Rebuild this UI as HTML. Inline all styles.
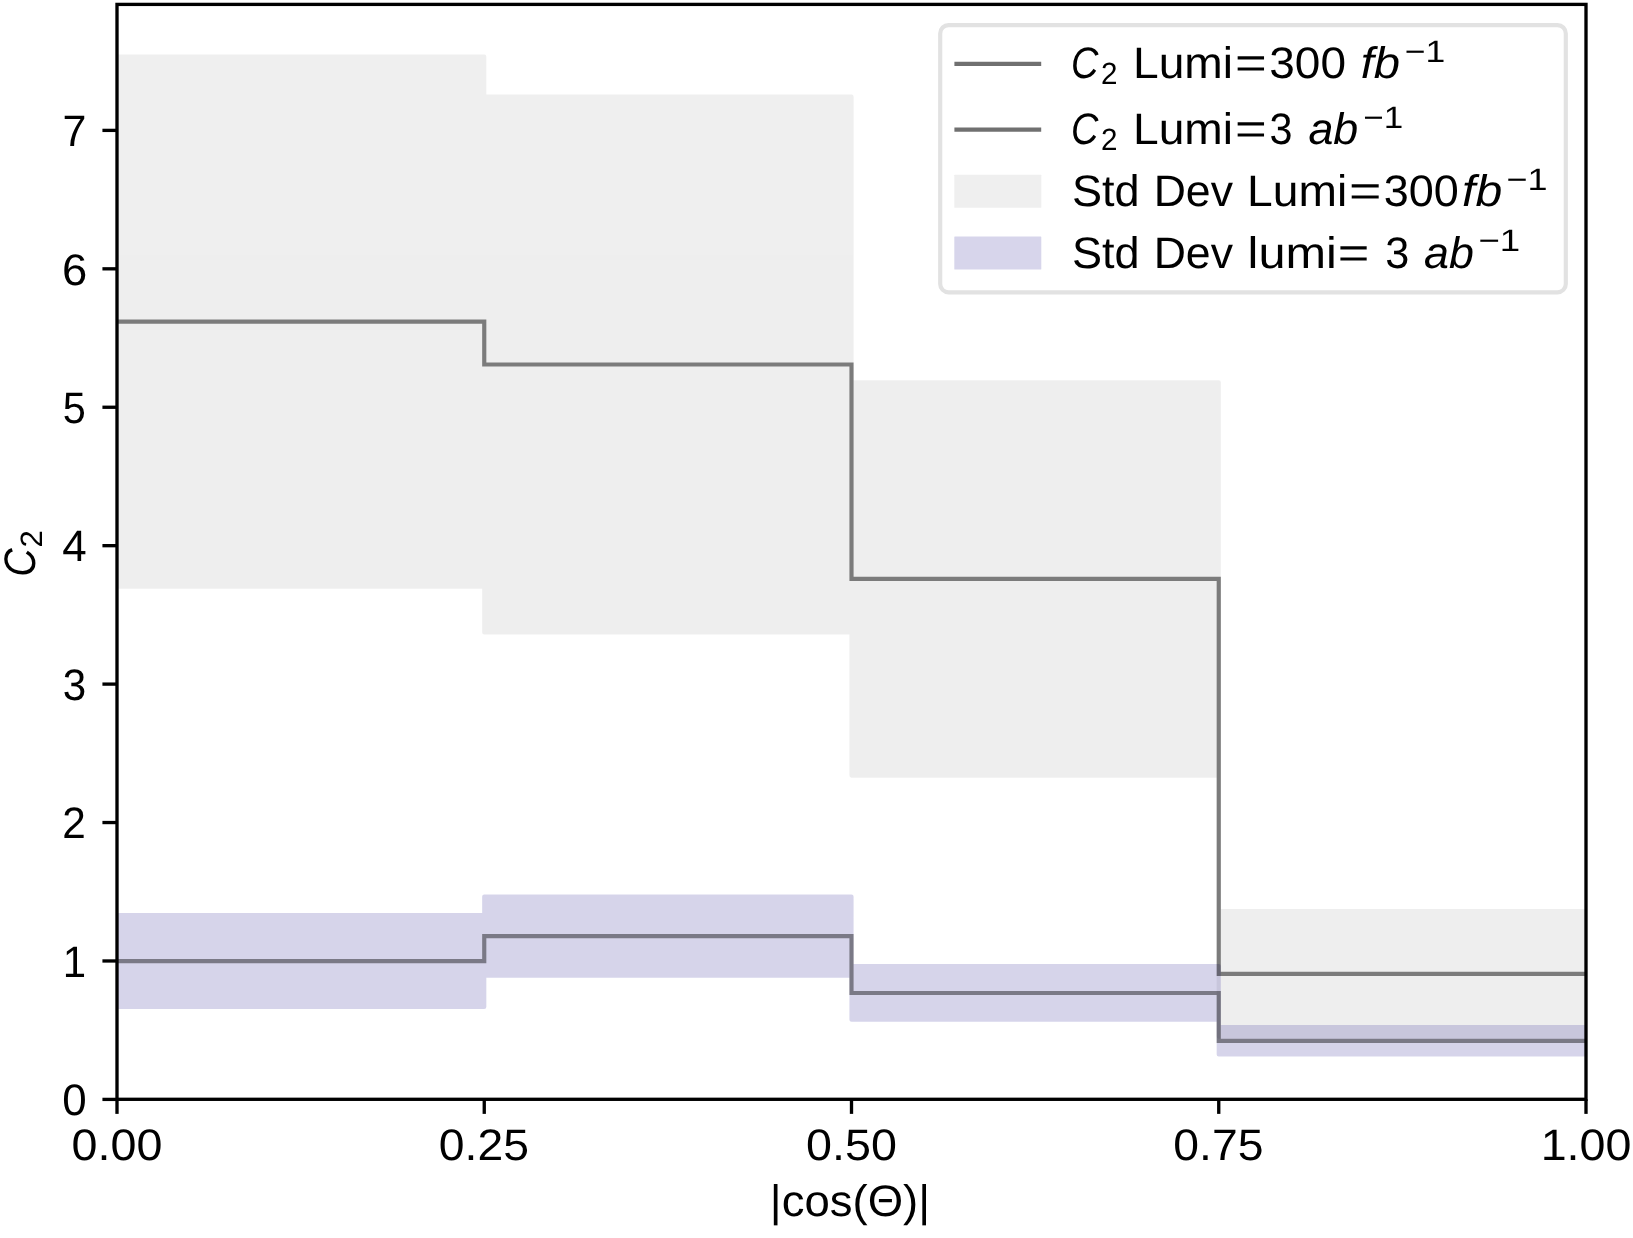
<!DOCTYPE html>
<html lang="en"><head><meta charset="utf-8"><title>C2 vs |cos(Theta)|</title>
<style>html,body{margin:0;padding:0;background:#fff;overflow:hidden}svg{display:block;will-change:transform}text{font-family:"Liberation Sans",sans-serif;fill:#000}</style></head><body>
<svg width="1633" height="1238" viewBox="0 0 1633 1238">
<rect x="0" y="0" width="1633" height="1238" fill="#ffffff"/>
<defs><clipPath id="ax"><rect x="117.00" y="4.40" width="1469.00" height="1094.90"/></clipPath></defs>
<g clip-path="url(#ax)">
<g opacity="0.127"><path d="M117.00 56.70 L484.25 56.70 L484.25 96.70 L851.50 96.70 L851.50 382.30 L1218.75 382.30 L1218.75 911.00 L1586.00 911.00 L1586.00 1036.60 L1218.75 1036.60 L1218.75 775.60 L851.50 775.60 L851.50 632.50 L484.25 632.50 L484.25 586.70 L117.00 586.70 Z" fill="#808080" stroke="#808080" stroke-width="4.17" stroke-linejoin="round"/></g>
<g opacity="0.165"><path d="M117.00 915.10 L484.25 915.10 L484.25 896.50 L851.50 896.50 L851.50 966.10 L1218.75 966.10 L1218.75 1027.15 L1586.00 1027.15 L1586.00 1054.50 L1218.75 1054.50 L1218.75 1019.70 L851.50 1019.70 L851.50 975.70 L484.25 975.70 L484.25 1006.90 L117.00 1006.90 Z" fill="#0c0087" stroke="#0c0087" stroke-width="4.17" stroke-linejoin="round"/></g>
<path d="M117.00 321.60 L484.25 321.60 L484.25 364.50 L851.50 364.50 L851.50 578.90 L1218.75 578.90 L1218.75 973.80 L1586.00 973.80" fill="none" stroke="#000" stroke-opacity="0.484" stroke-width="4.17" stroke-linejoin="miter" stroke-linecap="square"/>
<path d="M117.00 961.20 L484.25 961.20 L484.25 936.20 L851.50 936.20 L851.50 993.00 L1218.75 993.00 L1218.75 1040.80 L1586.00 1040.80" fill="none" stroke="#000" stroke-opacity="0.427" stroke-width="4.17" stroke-linejoin="miter" stroke-linecap="square"/>
</g>
<g stroke="#000" stroke-width="3.33" fill="none">
<line x1="117.00" y1="1099.30" x2="117.00" y2="1113.88"/>
<line x1="484.25" y1="1099.30" x2="484.25" y2="1113.88"/>
<line x1="851.50" y1="1099.30" x2="851.50" y2="1113.88"/>
<line x1="1218.75" y1="1099.30" x2="1218.75" y2="1113.88"/>
<line x1="1586.00" y1="1099.30" x2="1586.00" y2="1113.88"/>
<line x1="102.42" y1="1099.40" x2="117.00" y2="1099.40"/>
<line x1="102.42" y1="960.97" x2="117.00" y2="960.97"/>
<line x1="102.42" y1="822.54" x2="117.00" y2="822.54"/>
<line x1="102.42" y1="684.11" x2="117.00" y2="684.11"/>
<line x1="102.42" y1="545.68" x2="117.00" y2="545.68"/>
<line x1="102.42" y1="407.25" x2="117.00" y2="407.25"/>
<line x1="102.42" y1="268.82" x2="117.00" y2="268.82"/>
<line x1="102.42" y1="130.39" x2="117.00" y2="130.39"/>
<rect x="117.00" y="4.40" width="1469.00" height="1094.90" stroke-linejoin="miter"/>
</g>
<g style="font-kerning:none;text-rendering:geometricPrecision">
<text transform="translate(71.53 1159.65) scale(1.0580 1.0000)" font-size="44.15">0.00</text>
<text transform="translate(438.80 1159.65) scale(1.0490 1.0000)" font-size="44.15">0.25</text>
<text transform="translate(806.03 1159.65) scale(1.0580 1.0000)" font-size="44.15">0.50</text>
<text transform="translate(1173.30 1159.65) scale(1.0490 1.0000)" font-size="44.15">0.75</text>
<text transform="translate(1540.64 1159.65) scale(1.0568 1.0000)" font-size="44.15">1.00</text>
<text transform="translate(62.32 1115.10) scale(0.9949 1.0000)" font-size="44.15">0</text>
<text transform="translate(62.67 976.67) scale(0.9502 1.0000)" font-size="44.15">1</text>
<text transform="translate(62.21 838.24) scale(0.9589 1.0000)" font-size="44.15">2</text>
<text transform="translate(62.86 699.81) scale(0.9554 1.0000)" font-size="44.15">3</text>
<text transform="translate(62.32 561.38) scale(0.9950 1.0000)" font-size="44.15">4</text>
<text transform="translate(62.85 422.95) scale(0.9389 1.0000)" font-size="44.15">5</text>
<text transform="translate(61.89 284.52) scale(1.0296 1.0000)" font-size="44.15">6</text>
<text transform="translate(62.51 146.09) scale(0.9732 1.0000)" font-size="44.15">7</text>
<text transform="translate(769.83 1216.40) scale(1.0312 1.0000)" font-size="44.15">|cos(Θ)|</text>
<g transform="translate(0 0) rotate(-90)">
<text transform="translate(-576.87 35.00) scale(0.8927 1.0000)" font-size="44.15" font-style="italic">C</text>
<text transform="translate(-547.57 41.60) scale(1.0086 1.0000)" font-size="30.90">2</text>
</g>
</g>
<rect x="940.20" y="25.10" width="625.60" height="267.20" rx="8.33" ry="8.33" fill="#fff" fill-opacity="0.8" stroke="#e2e2e2" stroke-width="4.17"/>
<line x1="954.4" y1="63.90" x2="1041.2" y2="63.90" stroke="#000" stroke-opacity="0.56" stroke-width="4.17"/>
<line x1="954.4" y1="129.65" x2="1041.2" y2="129.65" stroke="#000" stroke-opacity="0.56" stroke-width="4.17"/>
<rect x="954.3" y="174.7" width="87" height="33.1" rx="0.6" fill="#808080" fill-opacity="0.127"/>
<rect x="954.3" y="236.5" width="87" height="33.1" rx="0.6" fill="#0c0087" fill-opacity="0.165"/>
<g style="font-kerning:none;text-rendering:geometricPrecision">
<text transform="translate(1070.91 78.10) scale(0.8590 1.0000)" font-size="44.15" font-style="italic">C</text>
<text transform="translate(1101.01 84.00) scale(0.9589 1.0000)" font-size="30.90">2</text>
<text transform="translate(1133.01 78.10) scale(1.0460 1.0000)" font-size="44.15">Lumi</text>
<text transform="translate(1235.05 78.10) scale(1.2308 1.0000)" font-size="44.15">=</text>
<text transform="translate(1269.25 78.10) scale(1.0419 1.0000)" font-size="44.15">300</text>
<text transform="translate(1360.71 78.10) scale(1.0684 1.0000)" font-size="44.15" font-style="italic">fb</text>
<text transform="translate(1404.65 61.90) scale(1.1490 1.0000)" font-size="30.90">−1</text>
<text transform="translate(1070.91 143.90) scale(0.8590 1.0000)" font-size="44.15" font-style="italic">C</text>
<text transform="translate(1101.01 149.80) scale(0.9589 1.0000)" font-size="30.90">2</text>
<text transform="translate(1133.01 143.90) scale(1.0460 1.0000)" font-size="44.15">Lumi</text>
<text transform="translate(1235.05 143.90) scale(1.2308 1.0000)" font-size="44.15">=</text>
<text transform="translate(1269.43 143.90) scale(0.9363 1.0000)" font-size="44.15">3</text>
<text transform="translate(1308.39 143.90) scale(1.0137 1.0000)" font-size="44.15" font-style="italic">ab</text>
<text transform="translate(1363.27 127.70) scale(1.1334 1.0000)" font-size="30.90">−1</text>
<text transform="translate(1071.95 206.20) scale(1.0209 1.0000)" font-size="44.15">Std</text>
<text transform="translate(1153.64 206.20) scale(1.0102 1.0000)" font-size="44.15">Dev</text>
<text transform="translate(1247.11 206.20) scale(1.0460 1.0000)" font-size="44.15">Lumi</text>
<text transform="translate(1348.89 206.20) scale(1.2588 1.0000)" font-size="44.15">=</text>
<text transform="translate(1383.69 206.20) scale(1.0191 1.0000)" font-size="44.15">300</text>
<text transform="translate(1462.08 206.20) scale(1.0890 1.0000)" font-size="44.15" font-style="italic">fb</text>
<text transform="translate(1506.43 190.00) scale(1.1645 1.0000)" font-size="30.90">−1</text>
<text transform="translate(1071.95 267.50) scale(1.0209 1.0000)" font-size="44.15">Std</text>
<text transform="translate(1153.64 267.50) scale(1.0102 1.0000)" font-size="44.15">Dev</text>
<text transform="translate(1247.62 267.50) scale(1.1027 1.0000)" font-size="44.15">lumi</text>
<text transform="translate(1337.86 267.50) scale(1.2261 1.0000)" font-size="44.15">=</text>
<text transform="translate(1385.35 267.50) scale(0.9793 1.0000)" font-size="44.15">3</text>
<text transform="translate(1424.09 267.50) scale(1.0137 1.0000)" font-size="44.15" font-style="italic">ab</text>
<text transform="translate(1478.39 251.30) scale(1.1862 1.0000)" font-size="30.90">−1</text>
</g>
</svg></body></html>
